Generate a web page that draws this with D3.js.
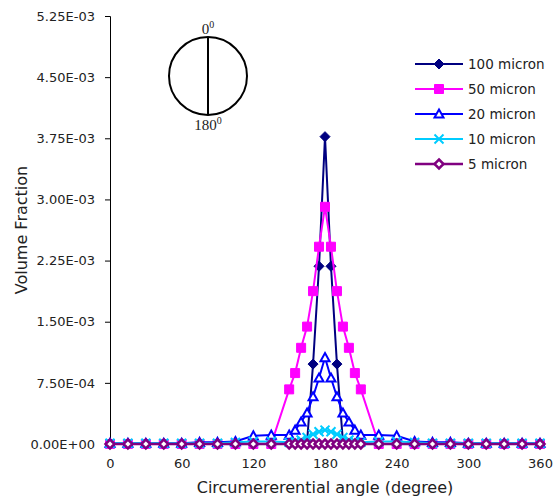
<!DOCTYPE html>
<html>
<head>
<meta charset="utf-8">
<script src="https://cdn.jsdelivr.net/npm/d3@7"></script>
<style>
  body { margin: 0; background: #fff; }
  text { font-family: "DejaVu Sans", Verdana, sans-serif; fill: #222; }
</style>
</head>
<body>
<div id="chart"></div>
<script>
// angles (degree) where the volume fraction was sampled
var angles = [0, 15, 30, 45, 60, 75, 90, 105, 120, 135,
  150, 155, 160, 165, 170, 175, 180, 185, 190, 195, 200, 205, 210,
  225, 240, 255, 270, 285, 300, 315, 330, 345, 360];

var micron100 = [0, 0, 0, 0, 0, 0, 0, 0, 0, 0,
  0, 0, 0, 0.00003, 0.00098, 0.00218, 0.00377, 0.00218, 0.00098, 0.00003, 0, 0, 0,
  0, 0, 0, 0, 0, 0, 0, 0, 0, 0];
var micron50 = [0, 0, 0, 0, 0, 0, 0, 0, 0, 0,
  0.00067, 0.00087, 0.00118, 0.00144, 0.001875, 0.00242, 0.00291, 0.00242, 0.001875, 0.00144, 0.00118, 0.00087, 0.00067,
  0, 0, 0, 0, 0, 0, 0, 0, 0, 0];
var micron20 = [0.00001, 0.00001, 0.00001, 0.00001, 0.00001, 0.00002, 0.00002, 0.00003, 0.0001, 0.00011,
  0.00011, 0.00017, 0.00027, 0.00038, 0.00058, 0.00081, 0.00106, 0.00081, 0.00058, 0.00038, 0.00027, 0.00017, 0.00011,
  0.00011, 0.0001, 0.00003, 0.00002, 0.00002, 0.00001, 0.00001, 0.00001, 0.00001, 0.00001];
var micron10 = [0.00001, 0.00001, 0.00001, 0.00001, 0.00001, 0.00001, 0.00001, 0.00002, 0.00003, 0.00003,
  0.00002, 0.00003, 0.00005, 0.00008, 0.00012, 0.00015, 0.00017, 0.00015, 0.00012, 0.00008, 0.00005, 0.00003, 0.00002,
  0.00003, 0.00003, 0.00002, 0.00001, 0.00001, 0.00001, 0.00001, 0.00001, 0.00001, 0.00001];
var micron5 = [0, 0, 0, 0, 0, 0, 0, 0, 0, 0,
  0, 0, 0, 0, 0, 0, 0, 0, 0, 0, 0, 0, 0,
  0, 0, 0, 0, 0, 0, 0, 0, 0, 0];

var xTicks = [0, 60, 120, 180, 240, 300, 360];
var yTicks = [0, 0.00075, 0.0015, 0.00225, 0.003, 0.00375, 0.0045, 0.00525];
var yTickLabels = ["0.00E+00", "7.50E-04", "1.50E-03", "2.25E-03", "3.00E-03", "3.75E-03", "4.50E-03", "5.25E-03"];

var seriesNames = ["100 micron", "50 micron", "20 micron", "10 micron", "5 micron"];
var seriesValues = [micron100, micron50, micron20, micron10, micron5];

var styles = [
  {color: "#000080", marker: "diamond", fill: "#000080", lw: 2, mw: 1, size: 10},
  {color: "#ff00ff", marker: "square", fill: "#ff00ff", lw: 2, mw: 1, size: 9},
  {color: "#0000ff", marker: "triangle", fill: "#fff", lw: 2, mw: 2, size: 9},
  {color: "#00ccff", marker: "cross", fill: "none", lw: 2, mw: 2, size: 9},
  {color: "#800080", marker: "diamond", fill: "#fff", lw: 2.5, mw: 2.5, size: 9}
];

var margin = {top: 16, right: 18, bottom: 52, left: 110},
    width = 558 - margin.left - margin.right,
    height = 496 - margin.top - margin.bottom;

var svg = d3.select("#chart")
    .append("svg")
    .attr("width", 558)
    .attr("height", 496);

var g = svg.append("g")
    .attr("transform", "translate(" + margin.left + "," + margin.top + ")");

var x = d3.scaleLinear().domain([0, 360]).range([0, width]);
var y = d3.scaleLinear().domain([0, 0.00525]).range([height, 0]);

// marker paths, centred on 0,0
function markerPath(type, s) {
  var h = s / 2;
  if (type == "diamond") return "M0," + (-h) + "L" + h + ",0L0," + h + "L" + (-h) + ",0Z";
  if (type == "square") return "M" + (-h) + "," + (-h) + "h" + s + "v" + s + "h" + (-s) + "Z";
  if (type == "triangle") return "M0," + (-h) + "L" + h + "," + (h * 0.8) + "L" + (-h) + "," + (h * 0.8) + "Z";
  if (type == "cross") return "M" + (-h) + "," + (-h) + "L" + h + "," + h + "M" + (-h) + "," + h + "L" + h + "," + (-h);
}

// axes
var yAxis = g.append("g")
    .call(d3.axisLeft(y).tickValues(yTicks).tickSize(5).tickPadding(10)
      .tickFormat(function(d, i) { return yTickLabels[i]; }));
yAxis.select(".domain").attr("stroke", "#000");
yAxis.selectAll("text").style("font-size", "13px").attr("fill", "#222");

var xAxis = g.append("g")
    .attr("transform", "translate(0," + height + ")")
    .call(d3.axisBottom(x).tickValues(xTicks).tickSize(5).tickPadding(10));
xAxis.selectAll("text").style("font-size", "13px").attr("fill", "#222");

g.append("text")
    .attr("x", width / 2)
    .attr("y", height + 49)
    .attr("text-anchor", "middle")
    .style("font-size", "16px")
    .text("Circumererential angle (degree)");

svg.append("text")
    .attr("transform", "translate(27," + (margin.top + height / 2) + ")rotate(-90)")
    .attr("text-anchor", "middle")
    .style("font-size", "16px")
    .text("Volume Fraction");

// series
var line = d3.line()
    .x(function(d) { return x(d.a); })
    .y(function(d) { return y(d.v); });

seriesValues.forEach(function(vals, i) {
  var st = styles[i];
  var pts = angles.map(function(a, j) { return {a: a, v: vals[j]}; });
  g.append("path")
      .datum(pts)
      .attr("fill", "none")
      .attr("stroke", st.color)
      .attr("stroke-width", st.lw)
      .attr("d", line);
  g.selectAll(".m" + i)
      .data(pts)
      .enter()
      .append("path")
      .attr("transform", function(d) { return "translate(" + x(d.a) + "," + y(d.v) + ")"; })
      .attr("d", markerPath(st.marker, st.size))
      .attr("fill", st.fill)
      .attr("stroke", st.color)
      .attr("stroke-width", st.mw);
});

// legend
var legend = svg.append("g").attr("transform", "translate(415,64)");
seriesNames.forEach(function(name, i) {
  var st = styles[i];
  var row = legend.append("g").attr("transform", "translate(0," + (i * 25) + ")");
  row.append("line")
      .attr("x1", 0).attr("x2", 48)
      .attr("stroke", st.color).attr("stroke-width", st.lw);
  row.append("path")
      .attr("transform", "translate(24,0)")
      .attr("d", markerPath(st.marker, st.size))
      .attr("fill", st.fill)
      .attr("stroke", st.color)
      .attr("stroke-width", st.mw);
  row.append("text")
      .attr("x", 53)
      .attr("dy", "0.35em")
      .style("font-size", "13.5px")
      .text(name);
});

// inset: pipe cross-section
var inset = svg.append("g").attr("transform", "translate(208,76)");
inset.append("circle")
    .attr("r", 39)
    .attr("fill", "none")
    .attr("stroke", "#000")
    .attr("stroke-width", 2);
inset.append("line")
    .attr("y1", -39).attr("y2", 39)
    .attr("stroke", "#000").attr("stroke-width", 2);
var topLbl = inset.append("text")
    .attr("y", -42)
    .attr("text-anchor", "middle")
    .style("font-family", "'Liberation Serif', serif")
    .style("font-size", "15px")
    .attr("fill", "#000");
topLbl.append("tspan").text("0");
topLbl.append("tspan").attr("dy", "-6").style("font-size", "10px").text("0");
var botLbl = inset.append("text")
    .attr("y", 54)
    .attr("text-anchor", "middle")
    .style("font-family", "'Liberation Serif', serif")
    .style("font-size", "15px")
    .attr("fill", "#000");
botLbl.append("tspan").text("180");
botLbl.append("tspan").attr("dy", "-6").style("font-size", "10px").text("0");
</script>
</body>
</html>
